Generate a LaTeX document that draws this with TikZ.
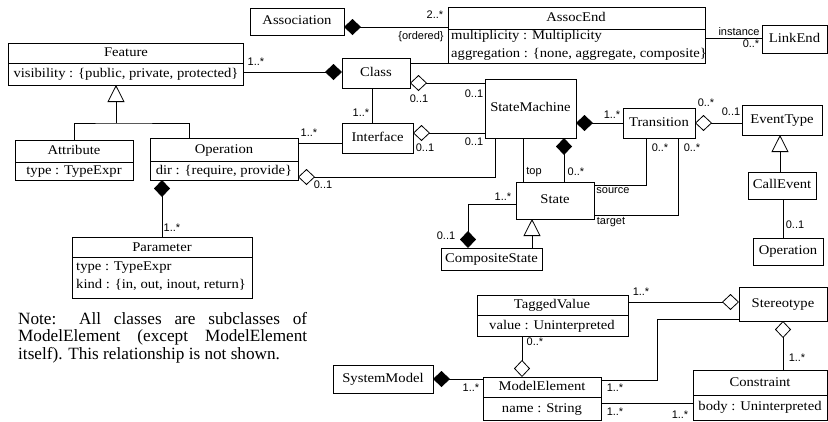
\documentclass[tikz,border=0pt]{standalone}
\usepackage{fontspec}
\setmainfont{Liberation Serif}
\newfontfamily\boxfont{Liberation Serif}[FakeStretch=1.1]
\newfontfamily\lblfont{Liberation Sans}
\usetikzlibrary{arrows.meta,calc}
\begin{document}
\begin{tikzpicture}[x=1pt,y=-1pt,
  box/.style={draw, line width=0.8pt, inner sep=0pt, outer sep=0pt, anchor=north west,
    text height=9pt, text depth=2.5pt, font=\boxfont\fontsize{13.3}{15}\selectfont},
  txt/.style={inner sep=0pt, text height=9pt, text depth=2.5pt, font=\boxfont\fontsize{13.3}{15}\selectfont},
  lbl/.style={inner sep=0pt, font=\lblfont\fontsize{11}{12}\selectfont},
  notetxt/.style={inner sep=0pt, anchor=base west, font=\fontsize{17.2}{17.5}\selectfont},
  conn/.style={line width=0.8pt},
  comp/.style={conn, {Diamond[length=17pt,width=16pt]}-},
  aggr/.style={conn, {Diamond[open,length=17pt,width=16pt]}-},
  gen/.style={conn, {Triangle[open,length=17pt,width=17pt]}-},
  divider/.style={line width=0.8pt}
]
\useasboundingbox (0,0) rectangle (828,421);

% ---------- boxes ----------
\node[box, minimum width=94pt, minimum height=27pt] (assoc) at (250,8) {Association};
\node[box, minimum width=257pt, minimum height=56pt] (assocend) at (448,7) {};
\draw[divider] (assocend.west |- 0,29) -- (assocend.east |- 0,29);
\node[txt] at (576,18) {AssocEnd};
\node[txt, anchor=west] at (451,36) {multiplicity : Multiplicity};
\node[txt, anchor=west] at (451,54) {aggregation : \{none, aggregate, composite\}};
\node[box, minimum width=65pt, minimum height=28pt] (linkend) at (762,25) {LinkEnd};

\node[box, minimum width=235pt, minimum height=42pt] (feature) at (8,43) {};
\draw[divider] (feature.west |- 0,63) -- (feature.east |- 0,63);
\node[txt] at (126,53) {Feature};
\node[txt] at (126,74) {visibility : \{public, private, protected\}};

\node[box, minimum width=68pt, minimum height=30pt] (class) at (342,58) {Class};
\node[box, minimum width=71pt, minimum height=30pt] (interface) at (342,123) {Interface};
\node[box, minimum width=91pt, minimum height=59pt] (sm) at (485,79) {StateMachine};
\node[box, minimum width=72pt, minimum height=30pt] (transition) at (623,108) {Transition};
\node[box, minimum width=80pt, minimum height=30pt] (eventtype) at (742,105) {EventType};
\node[box, minimum width=68pt, minimum height=27pt] (callevent) at (748,172) {CallEvent};
\node[box, minimum width=70pt, minimum height=27pt] (operation2) at (753,238) {Operation};
\node[box, minimum width=78pt, minimum height=37pt] (state) at (516,182) {State};
\node[box, minimum width=101pt, minimum height=22pt] (composite) at (441,248) {CompositeState};

\node[box, minimum width=118pt, minimum height=40pt] (attribute) at (15,140) {};
\draw[divider] (attribute.west |- 0,162) -- (attribute.east |- 0,162);
\node[txt] at (74,151) {Attribute};
\node[txt] at (74,171) {type : TypeExpr};

\node[box, minimum width=148pt, minimum height=42pt] (operation) at (150,138) {};
\draw[divider] (operation.west |- 0,161) -- (operation.east |- 0,161);
\node[txt] at (224,150) {Operation};
\node[txt] at (224,171) {dir : \{require, provide\}};

\node[box, minimum width=180pt, minimum height=61pt] (parameter) at (72,237) {};
\draw[divider] (parameter.west |- 0,257) -- (parameter.east |- 0,257);
\node[txt] at (162,248) {Parameter};
\node[txt, anchor=west] at (76,267) {type : TypeExpr};
\node[txt, anchor=west] at (76,285) {kind : \{in, out, inout, return\}};

\node[box, minimum width=151pt, minimum height=41pt] (tagged) at (477,295) {};
\draw[divider] (tagged.west |- 0,315) -- (tagged.east |- 0,315);
\node[txt] at (552,305) {TaggedValue};
\node[txt] at (552,326) {value : Uninterpreted};

\node[box, minimum width=88pt, minimum height=34pt] (stereotype) at (739,287) {Stereotype};

\node[box, minimum width=134pt, minimum height=50pt] (constraint) at (693,370) {};
\draw[divider] (constraint.west |- 0,395) -- (constraint.east |- 0,395);
\node[txt] at (760,383) {Constraint};
\node[txt] at (760,407) {body : Uninterpreted};

\node[box, minimum width=118pt, minimum height=43pt] (modelelement) at (483,377) {};
\draw[divider] (modelelement.west |- 0,397) -- (modelelement.east |- 0,397);
\node[txt] at (542,387) {ModelElement};
\node[txt] at (542,409) {name : String};

\node[box, minimum width=100pt, minimum height=28pt] (systemmodel) at (333,365) {SystemModel};

% ---------- note ----------
\node[notetxt] (note1) at (18,324) {\hbox to 289pt{Note: All classes are subclasses of}};
\node[notetxt] (note2) at (18,341.5) {\hbox to 289pt{ModelElement (except ModelElement}};
\node[notetxt] (note3) at (18,359) {itself). This relationship is not shown.};

% ---------- connectors ----------
\draw[comp] (assoc.east |- 0,27) -- (assocend.west |- 0,27);
\node[lbl] at (435,15) {2..*};
\node[lbl] at (421,37) {\{ordered\}};

\draw[conn] (assocend.east |- 0,38) -- (linkend.west |- 0,38);
\node[lbl] at (739,32) {instance};
\node[lbl] at (751,44) {0..*};

\draw[comp] (class.west |- 0,72) -- (feature.east |- 0,72);
\node[lbl] at (256,62) {1..*};

\draw[conn] (class.east |- 0,63) -- (assocend.south west);

\draw[aggr] (class.east |- 0,83) -- (sm.west |- 0,83);
\node[lbl] at (419,99) {0..1};
\node[lbl] at (474,94) {0..1};

\draw[conn] (class.south -| 372,0) -- (interface.north -| 372,0);
\node[lbl] at (361,113) {1..*};

\draw[aggr] (interface.east |- 0,133) -- (sm.west |- 0,133);
\node[lbl] at (425,148) {0..1};
\node[lbl] at (474,142) {0..1};

\draw[conn] (operation.east |- 0,143) -- (interface.west |- 0,143);
\node[lbl] at (309,133) {1..*};

\draw[aggr] (operation.east |- 0,177) -- (495,177) -- (sm.south -| 495,0);
\node[lbl] at (323,185) {0..1};

\draw[comp] (operation.south -| 162,0) -- (parameter.north -| 162,0);
\node[lbl] at (172,228) {1..*};

\coordinate (genf) at (116,123);
\draw[gen] (feature.south -| genf) -- (genf);
\draw[conn] (attribute.north -| 74,0) |- (genf) -| (operation.north -| 189,0);

\draw[comp] (sm.east |- 0,123) -- (transition.west |- 0,123);
\node[lbl] at (612,115) {1..*};

\draw[conn] (sm.south -| 523,0) -- (state.north -| 523,0);
\node[lbl] at (534,172) {top};
\draw[comp] (sm.south -| 564,0) -- (state.north -| 564,0);
\node[lbl] at (576,172) {0..*};

\draw[conn] (transition.south -| 646,0) |- (state.east |- 0,185);
\node[lbl] at (660,148) {0..*};
\node[lbl] at (613,191) {source};
\draw[conn] (transition.south -| 678,0) |- (state.east |- 0,215);
\node[lbl] at (692,148) {0..*};
\node[lbl] at (611,222) {target};

\draw[aggr] (transition.east |- 0,123) -- (eventtype.west |- 0,123);
\node[lbl] at (706,103) {0..*};
\node[lbl] at (731,112) {0..1};

\draw[gen] (eventtype.south -| 780,0) -- (callevent.north -| 780,0);
\draw[conn] (callevent.south -| 783,0) -- (operation2.north -| 783,0);
\node[lbl] at (795,225) {0..1};

\draw[comp] (composite.north -| 468,0) |- (state.west |- 0,204);
\node[lbl] at (503,197) {1..*};
\node[lbl] at (446,236) {0..1};

\draw[gen] (state.south -| 532,0) -- (composite.north -| 532,0);

\draw[aggr] (stereotype.west |- 0,302) -- (tagged.east |- 0,302);
\node[lbl] at (641,292) {1..*};

\draw[conn] (stereotype.west |- 0,319) -| (657,380) -- (modelelement.east |- 0,380);
\node[lbl] at (615,388) {1..*};

\draw[aggr] (stereotype.south -| 783,0) -- (constraint.north -| 783,0);
\node[lbl] at (797,358) {1..*};

\draw[conn] (modelelement.east |- 0,403) -- (constraint.west |- 0,403);
\node[lbl] at (615,412) {1..*};
\node[lbl] at (680,415) {1..*};

\draw[aggr] (modelelement.north -| 522,0) -- (tagged.south -| 522,0);
\node[lbl] at (535,342) {0..*};

\draw[comp] (systemmodel.east |- 0,379) -- (modelelement.west |- 0,379);
\node[lbl] at (471,388) {1..*};
\end{tikzpicture}
\end{document}
